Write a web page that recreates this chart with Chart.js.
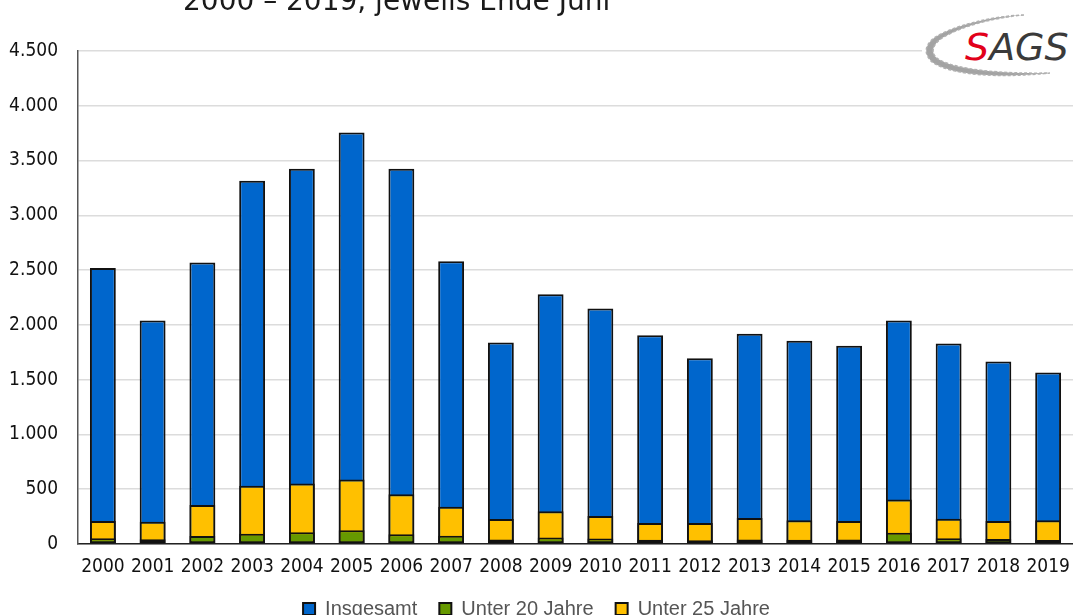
<!DOCTYPE html>
<html>
<head>
<meta charset="utf-8">
<script src="https://cdn.jsdelivr.net/npm/chart.js@4/dist/chart.umd.min.js"></script>
<style>
  html, body { margin: 0; padding: 0; background: #fff; overflow: hidden; }
  #wrap { position: relative; width: 1073px; height: 615px; overflow: hidden; }
  #box { position: absolute; left: 0; top: 0; width: 1073px; height: 629px; }
  #subtitle { position: absolute; left: 183px; top: -13px; font: 28px "DejaVu Sans"; line-height: 1; color: #1a1a1a; white-space: nowrap; }
  #logo { position: absolute; left: 922px; top: 6px; width: 151px; height: 80px; background: #fff; }
  #logo svg { position: absolute; left: 0; top: 0; }
  #logo span.t { position: absolute; left: 43px; top: 22px; font: oblique 38px "DejaVu Sans"; line-height: 1; color: #3a3a3a; }
  #logo span.r { color: #e2001a; }
</style>
</head>
<body>
<div id="wrap">
  <div id="box"><canvas id="chart"></canvas></div>
  <div id="subtitle">2000 – 2019, jeweils Ende Juni</div>
  <div id="logo">
    <svg width="151" height="80">
      <path d="M 102 9 C 70 10, 30 20, 12 32 C 2 40, 2 48, 10 56 C 30 70, 80 72, 128 67
               C 80 68, 34 64, 16 53 C 8 47, 10 39, 20 32 C 40 20, 70 12, 102 9 Z"
            fill="#9a9a9a" stroke="#a8a8a8" stroke-width="1.5" stroke-dasharray="3 2" opacity="0.9"/>
    </svg>
    <span class="t"><span class="r">S</span>AGS</span>
  </div>
</div>
<script>
// Jahre (jeweils Ende Juni)
const years = ["2000", "2001", "2002", "2003", "2004", "2005", "2006", "2007", "2008", "2009",
               "2010", "2011", "2012", "2013", "2014", "2015", "2016", "2017", "2018", "2019"];

const insgesamt = [2520, 2040, 2570, 3315, 3425, 3755, 3425, 2580, 1840, 2280,
                   2150, 1905, 1695, 1920, 1855, 1810, 2040, 1830, 1665, 1565];
const unter20 = [52, 43, 73, 94, 107, 125, 88, 75, 40, 60,
                 50, 38, 35, 42, 39, 40, 103, 52, 45, 36];
const unter25 = [210, 203, 355, 531, 553, 589, 453, 340, 228, 300,
                 255, 191, 192, 237, 216, 210, 407, 230, 210, 216];

const yMax = 4500;
const yStep = 500;

const tickFont = { family: "'DejaVu Sans Condensed', 'DejaVu Sans'", size: 19 };

function formatDE(v) {
    return String(v).replace(/\B(?=(\d{3})+(?!\d))/g, ".");
}

const ctx = document.getElementById("chart").getContext("2d");
new Chart(ctx, {
    type: "bar",
    data: {
        labels: years,
        datasets: [
            { label: "Insgesamt", data: insgesamt, backgroundColor: "#0066cc", order: 3 },
            { label: "Unter 20 Jahre", data: unter20, backgroundColor: "#669900", order: 1 },
            { label: "Unter 25 Jahre", data: unter25, backgroundColor: "#ffc000", order: 2 }
        ]
    },
    options: {
        responsive: true,
        maintainAspectRatio: false,
        animation: false,
        layout: { padding: { top: 51, right: 0, left: 0, bottom: 0 } },
        datasets: {
            bar: {
                borderColor: "#111",
                borderWidth: 2,
                borderSkipped: false,
                categoryPercentage: 1,
                barPercentage: 0.52
            }
        },
        scales: {
            x: {
                stacked: true,
                grid: { display: false, drawTicks: false },
                border: { color: "#222", width: 1.5 },
                ticks: { color: "#111", padding: 12, font: tickFont, maxRotation: 0, autoSkip: false },
                afterFit: function (scale) {
                    scale.height = 33;
                    scale.paddingRight = 0;
                }
            },
            y: {
                stacked: false,
                min: 0,
                max: yMax,
                grid: { color: "#dcdcdc", lineWidth: 1.5, drawTicks: false },
                border: { color: "#555", width: 1.5 },
                ticks: {
                    stepSize: yStep,
                    padding: 20,
                    color: "#111",
                    font: tickFont,
                    callback: function (v) { return formatDE(v); }
                },
                afterFit: function (scale) { scale.width = 78; }
            }
        },
        plugins: {
            legend: {
                position: "bottom",
                labels: {
                    boxWidth: 12,
                    boxHeight: 12,
                    padding: 22,
                    color: "#555",
                    font: { family: "Liberation Sans", size: 20 },
                    sort: function (a, b) { return a.datasetIndex - b.datasetIndex; }
                }
            },
            tooltip: { enabled: false }
        }
    }
});
</script>
</body>
</html>
